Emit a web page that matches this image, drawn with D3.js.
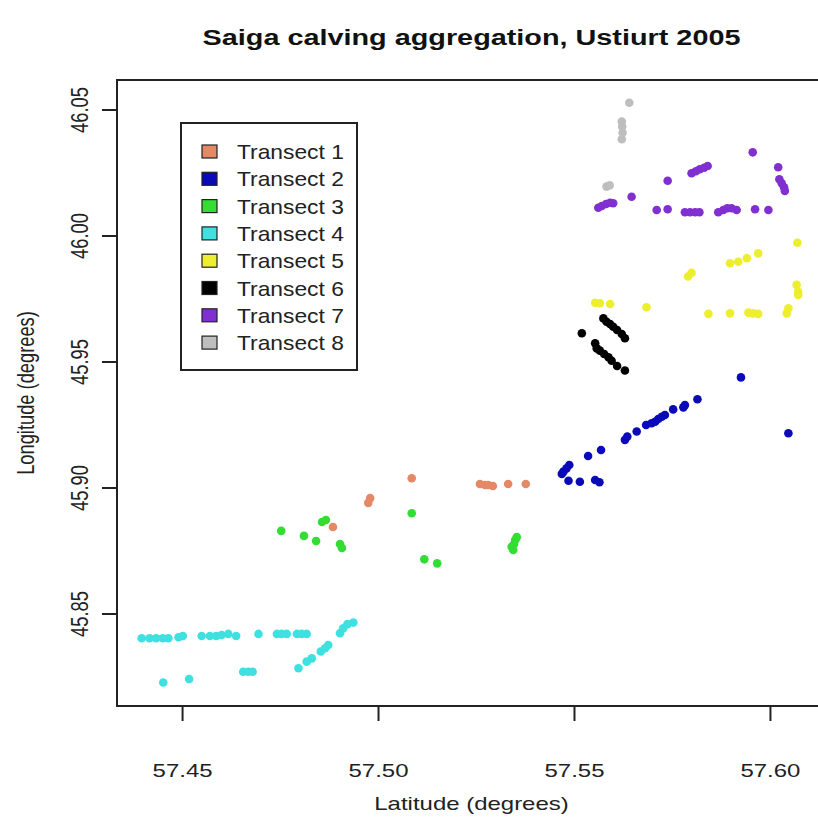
<!DOCTYPE html>
<html>
<head>
<meta charset="utf-8">
<script src="https://cdn.jsdelivr.net/npm/d3@7"></script>
<style>
  body { margin: 0; background: #fff; }
  svg { display: block; font-family: Arial, "Liberation Sans", sans-serif; }
</style>
</head>
<body>
<svg id="chart" width="818" height="818"></svg>
<script>
// transect names and colours
var transects = ['Transect 1', 'Transect 2', 'Transect 3', 'Transect 4',
  'Transect 5', 'Transect 6', 'Transect 7', 'Transect 8'];
var colors = ['#E58866', '#0A0AB8', '#33DD33', '#3FE0E0',
  '#EEEE30', '#000000', '#8030D0', '#BEBEBE'];

// latitude (x) / longitude (y) per transect
var lat1 = [57.4885, 57.4975, 57.4980, 57.5086, 57.5260, 57.5273, 57.5281, 57.5293, 57.5332, 57.5377];
var lon1 = [45.8845, 45.8941, 45.8960, 45.9039, 45.9016, 45.9012, 45.9012, 45.9008, 45.9016, 45.9016];

var lat2 = [57.5469, 57.5473, 57.5481, 57.5488, 57.5486, 57.5515, 57.5554, 57.5565, 57.5536, 57.5569,
  57.5630, 57.5636, 57.5660, 57.5684, 57.5698, 57.5707, 57.5715, 57.5724, 57.5732, 57.5753,
  57.5779, 57.5783, 57.5815, 57.5926, 57.6047];
var lon2 = [45.9056, 45.9065, 45.9078, 45.9091, 45.9029, 45.9025, 45.9032, 45.9023, 45.9127, 45.9151,
  45.9191, 45.9204, 45.9224, 45.9250, 45.9257, 45.9263, 45.9274, 45.9283, 45.9290, 45.9312,
  45.9320, 45.9329, 45.9352, 45.9439, 45.9217];

var lat3 = [57.4753, 57.4811, 57.4842, 57.4857, 57.4867, 57.4903, 57.4908, 57.5086, 57.5118, 57.5151,
  57.5341, 57.5350, 57.5354, 57.5345, 57.5347];
var lon3 = [45.8830, 45.8810, 45.8790, 45.8865, 45.8873, 45.8778, 45.8762, 45.8900, 45.8717, 45.8701,
  45.8767, 45.8794, 45.8805, 45.8754, 45.8778];

var lat4 = [57.4397, 57.4417, 57.4434, 57.4451, 57.4465, 57.4491, 57.4502, 57.4550, 57.4571, 57.4587,
  57.4601, 57.4618, 57.4638, 57.4695, 57.4742, 57.4754, 57.4767, 57.4793, 57.4805, 57.4818,
  57.4452, 57.4518, 57.4656, 57.4669, 57.4680,
  57.4797, 57.4818, 57.4831, 57.4854, 57.4865, 57.4873, 57.4903, 57.4911, 57.4922, 57.4937];
var lon4 = [45.8404, 45.8404, 45.8404, 45.8404, 45.8404, 45.8408, 45.8413, 45.8413, 45.8413, 45.8413,
  45.8417, 45.8421, 45.8413, 45.8421, 45.8421, 45.8421, 45.8421, 45.8421, 45.8421, 45.8421,
  45.8228, 45.8242, 45.8271, 45.8271, 45.8271,
  45.8285, 45.8311, 45.8324, 45.8351, 45.8364, 45.8377, 45.8424, 45.8443, 45.8460, 45.8466];

var lat5 = [57.5554, 57.5566, 57.5592, 57.5685, 57.5791, 57.5800, 57.5898, 57.5919, 57.5941, 57.5970,
  57.6070, 57.5843, 57.5898, 57.5945, 57.5957, 57.5970, 57.6043, 57.6047, 57.6068, 57.6072, 57.6072];
var lon5 = [45.9735, 45.9733, 45.9730, 45.9717, 45.9839, 45.9854, 45.9892, 45.9898, 45.9912, 45.9931,
  45.9973, 45.9691, 45.9693, 45.9696, 45.9693, 45.9691, 45.9693, 45.9713, 45.9806, 45.9779, 45.9766];

var lat6 = [57.5520, 57.5575, 57.5583, 57.5592, 57.5600, 57.5610, 57.5622, 57.5630,
  57.5554, 57.5558, 57.5566, 57.5577, 57.5588, 57.5596, 57.5610, 57.5630];
var lon6 = [45.9614, 45.9673, 45.9660, 45.9651, 45.9640, 45.9627, 45.9611, 45.9594,
  45.9574, 45.9554, 45.9545, 45.9532, 45.9519, 45.9505, 45.9484, 45.9466];

var lat7 = [57.5562, 57.5571, 57.5582, 57.5592, 57.5600, 57.5647, 57.5739, 57.5800, 57.5811, 57.5821,
  57.5832, 57.5841, 57.5711, 57.5739, 57.5783, 57.5796, 57.5809, 57.5820, 57.5868, 57.5881,
  57.5891, 57.5902, 57.5915, 57.5962, 57.5996, 57.5956, 57.6021, 57.6024, 57.6030, 57.6036, 57.6038];
var lon7 = [46.0112, 46.0119, 46.0127, 46.0132, 46.0130, 46.0156, 46.0219, 46.0249, 46.0257, 46.0265,
  46.0271, 46.0278, 46.0103, 46.0106, 46.0094, 46.0094, 46.0094, 46.0094, 46.0094, 46.0103,
  46.0110, 46.0110, 46.0103, 46.0106, 46.0103, 46.0332, 46.0273, 46.0225, 46.0209, 46.0193, 46.0179];

var lat8 = [57.5641, 57.5622, 57.5623, 57.5624, 57.5622, 57.5583, 57.5591];
var lon8 = [46.0529, 46.0454, 46.0434, 46.0410, 46.0384, 46.0196, 46.0201];

var xTicks = [57.45, 57.50, 57.55, 57.60];
var yTicks = [45.85, 45.90, 45.95, 46.00, 46.05];
var xDomain = [57.4334, 57.6143];
var yDomain = [45.8135, 46.0619];

var lats = [lat1, lat2, lat3, lat4, lat5, lat6, lat7, lat8];
var lons = [lon1, lon2, lon3, lon4, lon5, lon6, lon7, lon8];

(function() {
  var svg = d3.select('#chart');
  var margin = { left: 117, top: 80, right: 826, bottom: 706 };
  // the original picture was stretched sideways, so the text is too
  var sx = 1.31;
  var midX = (margin.left + margin.right) / 2;

  var x = d3.scaleLinear().domain(xDomain).range([margin.left, margin.right]);
  var y = d3.scaleLinear().domain(yDomain).range([margin.bottom, margin.top]);

  var fmt = d3.format('.2f');

  // points
  lats.forEach(function(la, k) {
    var pts = la.map(function(v, i) {
      return { lat: v, lon: lons[k][i] };
    });

    svg.append('g')
      .attr('class', 'transect')
      .selectAll('circle')
      .data(pts)
      .enter()
      .append('circle')
      .attr('cx', function(d) { return x(d.lat); })
      .attr('cy', function(d) { return y(d.lon); })
      .attr('r', 4.3)
      .attr('fill', colors[k]);
  });

  // plot box
  svg.append('rect')
    .attr('x', margin.left)
    .attr('y', margin.top)
    .attr('width', margin.right - margin.left)
    .attr('height', margin.bottom - margin.top)
    .attr('fill', 'none')
    .attr('stroke', '#222')
    .attr('stroke-width', 2);

  var xAxis = d3.axisBottom(x)
    .tickValues(xTicks)
    .tickSize(15)
    .tickFormat(fmt);

  var gx = svg.append('g')
    .attr('transform', 'translate(0,' + margin.bottom + ')')
    .call(xAxis);

  gx.select('.domain').remove();
  gx.selectAll('line').attr('stroke', '#222').attr('stroke-width', 2);
  gx.selectAll('text')
    .attr('fill', '#222')
    .attr('y', null)
    .attr('dy', null)
    .attr('transform', 'translate(0,71) scale(' + sx + ',1)')
    .style('font-size', '18.3px');

  var yAxis = d3.axisLeft(y)
    .tickValues(yTicks)
    .tickSize(15)
    .tickFormat(fmt);

  var gy = svg.append('g')
    .attr('transform', 'translate(' + margin.left + ',0)')
    .call(yAxis);

  gy.select('.domain').remove();
  gy.selectAll('.tick').attr('transform', null);
  gy.selectAll('.tick line')
    .attr('stroke', '#222')
    .attr('stroke-width', 2)
    .attr('transform', function(d) { return 'translate(0,' + y(d) + ')'; });
  gy.selectAll('text')
    .attr('fill', '#222')
    .attr('x', null)
    .attr('y', null)
    .attr('dy', null)
    .attr('text-anchor', 'middle')
    .attr('transform', function(d) {
      return 'translate(-29,' + y(d) + ') scale(' + sx + ',1) rotate(-90)';
    })
    .style('font-size', '18.3px');

  // titles
  svg.append('text')
    .attr('transform', 'translate(' + midX + ',45) scale(' + sx + ',1)')
    .attr('text-anchor', 'middle')
    .style('font-size', '22px')
    .style('font-weight', 'bold')
    .attr('fill', '#111')
    .text('Saiga calving aggregation, Ustiurt 2005');

  svg.append('text')
    .attr('transform', 'translate(' + midX + ',810) scale(' + sx + ',1)')
    .attr('text-anchor', 'middle')
    .style('font-size', '18.3px')
    .attr('fill', '#222')
    .text('Latitude (degrees)');

  svg.append('text')
    .attr('transform', 'translate(34,' + (margin.top + margin.bottom) / 2 + ') scale(' + sx + ',1) rotate(-90)')
    .attr('text-anchor', 'middle')
    .style('font-size', '18.3px')
    .attr('fill', '#222')
    .text('Longitude (degrees)');

  // legend
  var legend = svg.append('g')
    .attr('transform', 'translate(181,123)');

  legend.append('rect')
    .attr('width', 176)
    .attr('height', 247)
    .attr('fill', '#fff')
    .attr('stroke', '#222')
    .attr('stroke-width', 2);

  var item = legend.selectAll('.item')
    .data(transects)
    .enter()
    .append('g')
    .attr('class', 'item')
    .attr('transform', function(d, i) {
      return 'translate(0,' + (29 + i * 27.3) + ')';
    });

  item.append('rect')
    .attr('x', 21)
    .attr('y', -7)
    .attr('width', 15)
    .attr('height', 13)
    .attr('fill', function(d, i) { return colors[i]; })
    .attr('stroke', '#222')
    .attr('stroke-width', 1.2);

  item.append('text')
    .attr('transform', 'translate(56,7) scale(1.14,1)')
    .style('font-size', '20px')
    .attr('fill', '#222')
    .text(function(d) { return d; });
})();
</script>
</body>
</html>
